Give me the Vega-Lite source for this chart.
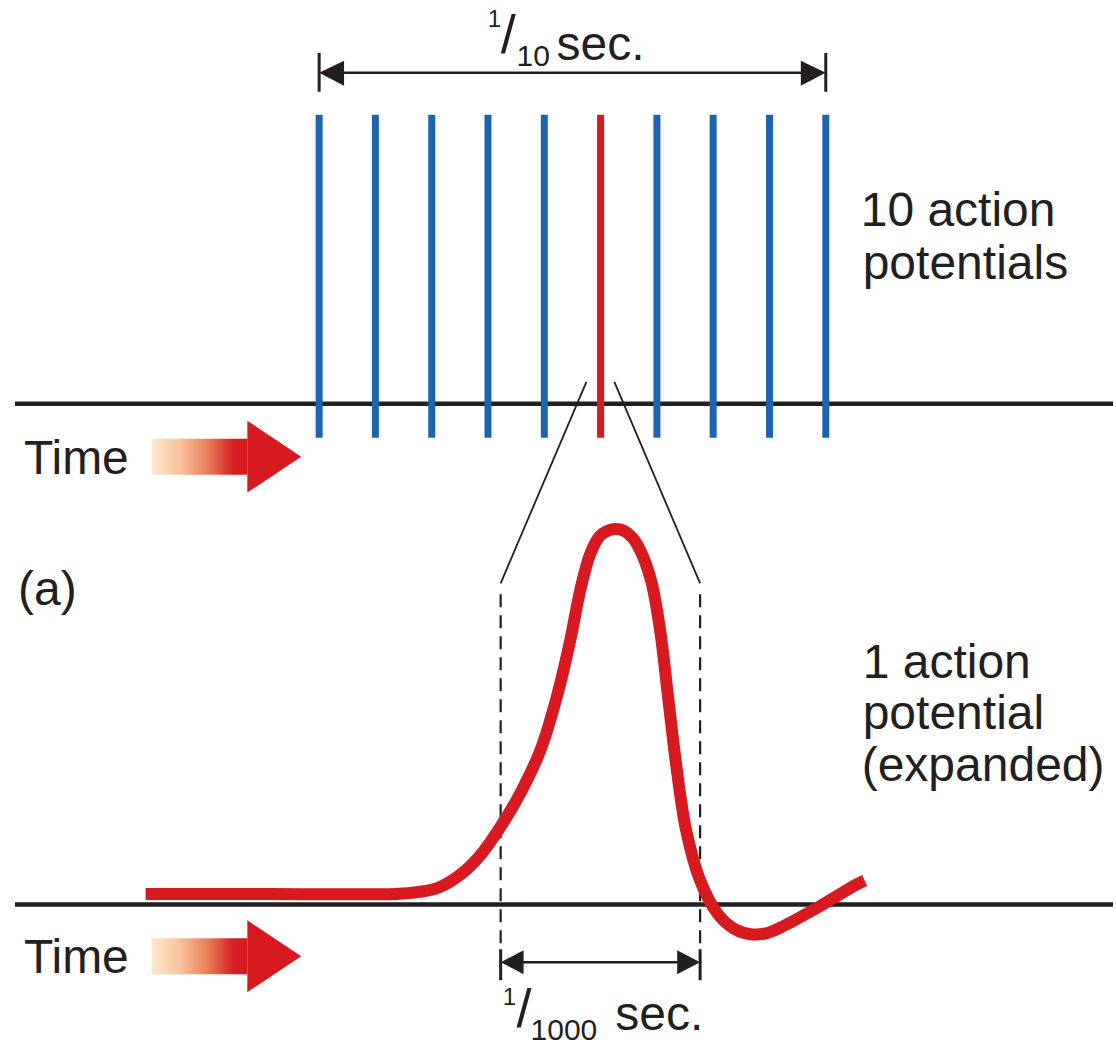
{
"$schema": "https://vega.github.io/schema/vega-lite/v6.json",
"width": 1116, "height": 1046,
"autosize": {"type": "fit", "contains": "padding"},
"padding": 0,
"background": "white",
"config": {"view": {"stroke": null}, "text": {"font": "Liberation Sans"}},
"datasets": {
 "shafts": [{"x": 152, "x2": 248, "y": 440, "y2": 476}, {"x": 152, "x2": 248, "y": 941, "y2": 977}],
 "timeHeads": [
  {"id": "a", "x": 248, "y": 422, "y2": 494}, {"id": "a", "x": 302, "y": 458, "y2": 458},
  {"id": "b", "x": 248, "y": 923, "y2": 995}, {"id": "b", "x": 302, "y": 959, "y2": 959}
 ],
 "baselines": [{"x": 15, "x2": 1116, "y": 405, "y2": 405}, {"x": 15, "x2": 1116, "y": 907, "y2": 907}],
 "brackets": [{"x": 335, "x2": 813, "y": 73, "y2": 73}, {"x": 515, "x2": 689, "y": 965, "y2": 965}],
 "ticks": [
  {"x": 320, "x2": 320, "y": 53, "y2": 92}, {"x": 828, "x2": 828, "y": 53, "y2": 92},
  {"x": 502, "x2": 502, "y": 952, "y2": 983}, {"x": 702, "x2": 702, "y": 952, "y2": 983}
 ],
 "zoomLines": [{"x": 588, "x2": 502, "y": 383, "y2": 585}, {"x": 616, "x2": 702, "y": 383, "y2": 585}],
 "dashed": [{"x": 502, "x2": 502, "y": 596, "y2": 950}, {"x": 702, "x2": 702, "y": 596, "y2": 950}],
 "blackHeads": [
  {"id": "l1", "x": 320, "y": 73, "y2": 73}, {"id": "l1", "x": 345, "y": 61, "y2": 86},
  {"id": "r1", "x": 803, "y": 61, "y2": 86}, {"id": "r1", "x": 828, "y": 73, "y2": 73},
  {"id": "l2", "x": 502, "y": 965, "y2": 965}, {"id": "l2", "x": 525, "y": 953, "y2": 977},
  {"id": "r2", "x": 679, "y": 953, "y2": 977}, {"id": "r2", "x": 702, "y": 965, "y2": 965}
 ],
 "spikes": [
  {"x": 320, "y": 115, "y2": 439}, {"x": 376.4, "y": 115, "y2": 439}, {"x": 432.9, "y": 115, "y2": 439},
  {"x": 489.3, "y": 115, "y2": 439}, {"x": 545.8, "y": 115, "y2": 439}, {"x": 658.7, "y": 115, "y2": 439},
  {"x": 715.1, "y": 115, "y2": 439}, {"x": 771.6, "y": 115, "y2": 439}, {"x": 828, "y": 115, "y2": 439}
 ],
 "redSpike": [{"x": 602.2, "y": 115, "y2": 439}],
 "ap": [
  {"x": 146, "y": 896.5}, {"x": 270, "y": 896.5}, {"x": 397, "y": 896.5}, {"x": 420, "y": 894.5},
  {"x": 440, "y": 890}, {"x": 463, "y": 876}, {"x": 483, "y": 856}, {"x": 502, "y": 829},
  {"x": 522, "y": 795}, {"x": 542, "y": 752}, {"x": 558, "y": 700}, {"x": 572, "y": 641},
  {"x": 582, "y": 591}, {"x": 592, "y": 555}, {"x": 602, "y": 537}, {"x": 610, "y": 532},
  {"x": 617, "y": 530.5}, {"x": 625, "y": 532}, {"x": 634, "y": 539}, {"x": 642, "y": 552},
  {"x": 653, "y": 583}, {"x": 662, "y": 633}, {"x": 670, "y": 700}, {"x": 678, "y": 767},
  {"x": 688, "y": 833}, {"x": 702, "y": 883}, {"x": 720, "y": 917}, {"x": 737, "y": 932},
  {"x": 753, "y": 937}, {"x": 768, "y": 936}, {"x": 783, "y": 930}, {"x": 820, "y": 910},
  {"x": 857, "y": 888}, {"x": 867, "y": 883}
 ],
 "labels": [
  {"t": "sec.", "x": 558, "y": 60}, {"t": "sec.", "x": 617, "y": 1033},
  {"t": "Time", "x": 24, "y": 475}, {"t": "Time", "x": 24, "y": 976},
  {"t": "10 action", "x": 863, "y": 227}, {"t": "potentials", "x": 865, "y": 280},
  {"t": "1 action", "x": 865, "y": 680}, {"t": "potential", "x": 865, "y": 731},
  {"t": "(expanded)", "x": 864, "y": 783}, {"t": "(a)", "x": 18, "y": 607}
 ],
 "slashes": [{"t": "/", "x": 502, "y": 53}, {"t": "/", "x": 518, "y": 1030}],
 "sups": [{"t": "1", "x": 489, "y": 27}, {"t": "1", "x": 504, "y": 1008}],
 "subs": [{"t": "10", "x": 518, "y": 66}, {"t": "1000", "x": 532, "y": 1043}]
},
"encoding": {
 "x": {"field": "x", "type": "quantitative", "scale": {"domain": [0, 1116], "nice": false, "zero": false}, "axis": null},
 "y": {"field": "y", "type": "quantitative", "scale": {"domain": [0, 1046], "nice": false, "zero": false, "reverse": true}, "axis": null}
},
"layer": [
 {"data": {"name": "shafts"},
  "mark": {"type": "rect", "color": {"gradient": "linear", "x1": 0, "x2": 1, "y1": 0, "y2": 0,
    "stops": [{"offset": 0, "color": "#fde9cc"}, {"offset": 0.3, "color": "#f8c39c"}, {"offset": 0.6, "color": "#e87a58"}, {"offset": 0.85, "color": "#d71f24"}, {"offset": 1, "color": "#d71920"}]}},
  "encoding": {"x2": {"field": "x2"}, "y2": {"field": "y2"}}},
 {"data": {"name": "timeHeads"}, "mark": {"type": "area", "color": "#d71920"},
  "encoding": {"y2": {"field": "y2"}, "detail": {"field": "id"}}},
 {"data": {"name": "baselines"}, "mark": {"type": "rule", "color": "#231f20", "strokeWidth": 4.5},
  "encoding": {"x2": {"field": "x2"}, "y2": {"field": "y2"}}},
 {"data": {"name": "brackets"}, "mark": {"type": "rule", "color": "#231f20", "strokeWidth": 2.5},
  "encoding": {"x2": {"field": "x2"}, "y2": {"field": "y2"}}},
 {"data": {"name": "ticks"}, "mark": {"type": "rule", "color": "#231f20", "strokeWidth": 3},
  "encoding": {"x2": {"field": "x2"}, "y2": {"field": "y2"}}},
 {"data": {"name": "zoomLines"}, "mark": {"type": "rule", "color": "#231f20", "strokeWidth": 1.8},
  "encoding": {"x2": {"field": "x2"}, "y2": {"field": "y2"}}},
 {"data": {"name": "dashed"}, "mark": {"type": "rule", "color": "#231f20", "strokeWidth": 2.2, "strokeDash": [13, 8]},
  "encoding": {"x2": {"field": "x2"}, "y2": {"field": "y2"}}},
 {"data": {"name": "blackHeads"}, "mark": {"type": "area", "color": "#231f20"},
  "encoding": {"y2": {"field": "y2"}, "detail": {"field": "id"}}},
 {"data": {"name": "spikes"}, "mark": {"type": "rule", "color": "#1c64ae", "strokeWidth": 7},
  "encoding": {"y2": {"field": "y2"}}},
 {"data": {"name": "redSpike"}, "mark": {"type": "rule", "color": "#d71920", "strokeWidth": 7},
  "encoding": {"y2": {"field": "y2"}}},
 {"data": {"name": "ap"}, "mark": {"type": "line", "color": "#d71920", "strokeWidth": 12, "interpolate": "catmull-rom", "strokeCap": "butt"}},
 {"data": {"name": "labels"}, "mark": {"type": "text", "align": "left", "baseline": "alphabetic", "fontSize": 48, "color": "#231f20"},
  "encoding": {"text": {"field": "t"}}},
 {"data": {"name": "slashes"}, "mark": {"type": "text", "align": "left", "baseline": "alphabetic", "fontSize": 54, "color": "#231f20"},
  "encoding": {"text": {"field": "t"}}},
 {"data": {"name": "sups"}, "mark": {"type": "text", "align": "left", "baseline": "alphabetic", "fontSize": 24, "color": "#231f20"},
  "encoding": {"text": {"field": "t"}}},
 {"data": {"name": "subs"}, "mark": {"type": "text", "align": "left", "baseline": "alphabetic", "fontSize": 30, "color": "#231f20"},
  "encoding": {"text": {"field": "t"}}}
]
}
